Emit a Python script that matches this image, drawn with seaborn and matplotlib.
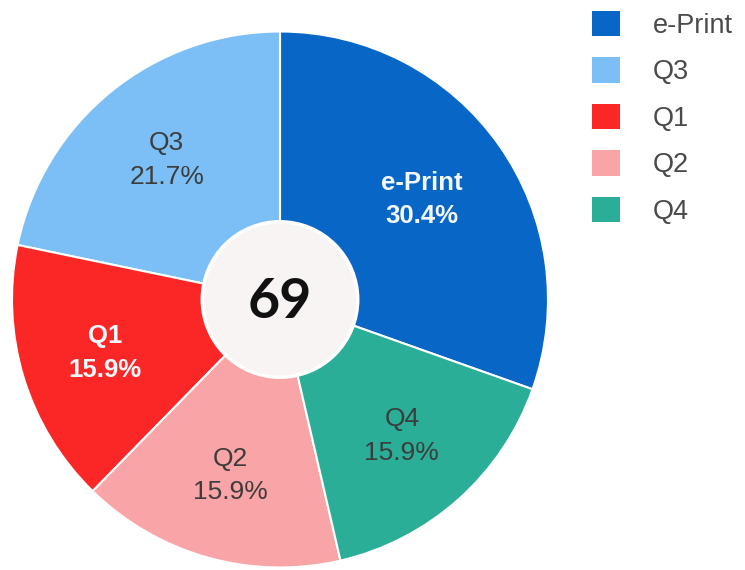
import matplotlib
matplotlib.use("Agg")
import matplotlib.pyplot as plt
import seaborn as sns
import numpy as np

sns.set_theme(style="white")
plt.rcParams["font.family"] = ["Liberation Sans", "DejaVu Sans"]

# Category counts (total 69)
categories = ["e-Print", "Q3", "Q1", "Q2", "Q4"]
counts = [21, 15, 11, 11, 11]
colors = ["#0866C6", "#7CBFF6", "#FB2727", "#F9A4A6", "#2AAE97"]
bold_white = {"e-Print", "Q1"}

W, H = 745, 570
fig = plt.figure(figsize=(W / 100, H / 100), dpi=100)
fig.patch.set_facecolor("white")

cx, cy, R = 280, 299.5, 268
ax = fig.add_axes([(cx - R) / W, (H - cy - R) / H, 2 * R / W, 2 * R / H])

total = sum(counts)
start = 90 - 360 * counts[0] / total
wedges, _ = ax.pie(counts, colors=colors, startangle=start, counterclock=True,
                   radius=1.0,
                   wedgeprops=dict(edgecolor="white", linewidth=1.5))
ax.set_xlim(-1, 1)
ax.set_ylim(-1, 1)
ax.set_aspect("equal")
ax.axis("off")

hole_r = 0.29

# Slice labels: name + percentage, placed between the ring's mid radius
# and the centroid of the annular sector
for w, name, c in zip(wedges, categories, counts):
    half = np.deg2rad((w.theta2 - w.theta1) / 2)
    mid = np.deg2rad((w.theta1 + w.theta2) / 2)
    centroid = (2 / 3) * (1 - hole_r ** 3) / (1 - hole_r ** 2) * np.sin(half) / half
    r = 0.5 * centroid + 0.5 * 0.685
    x, y = r * np.cos(mid), r * np.sin(mid)
    pct = 100 * c / total
    if name in bold_white:
        ax.text(x, y, f"{name}\n{pct:.1f}%", ha="center", va="center",
                fontsize=18.5, color="#F4F8FC", fontweight="bold", linespacing=1.5)
    else:
        ax.text(x, y, f"{name}\n{pct:.1f}%", ha="center", va="center",
                fontsize=19, color="#3C3C3C", linespacing=1.5)

# Center hole with total
hole = plt.Circle((0, 0), hole_r, facecolor="#F8F4F4", edgecolor="white", linewidth=2.5, zorder=5)
ax.add_patch(hole)
ax.text(0, -0.01, f"{total}", ha="center", va="center", fontsize=40,
        fontweight="bold", color="#111111", family=["Lato", "DejaVu Sans"], zorder=6)

leg = fig.legend(wedges, categories, loc="upper left",
                 bbox_to_anchor=(592 / W, 1 - 11 / H), bbox_transform=fig.transFigure,
                 frameon=False, fontsize=19.5, handlelength=1.05, handleheight=1.05,
                 handletextpad=1.2, labelspacing=0.69, borderpad=0, borderaxespad=0)
for t in leg.get_texts():
    t.set_color("#4A4A4A")
for h in leg.legend_handles:
    h.set_edgecolor("none")

fig.savefig("out.png", dpi=100)
